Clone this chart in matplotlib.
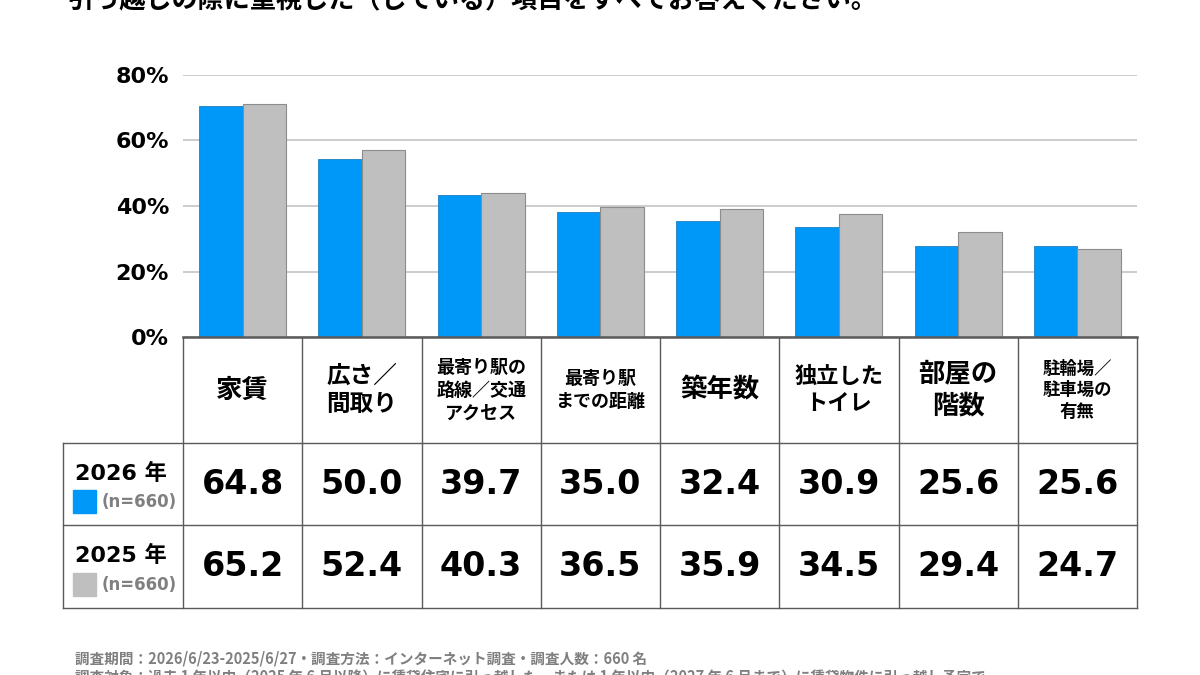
import matplotlib
matplotlib.use("Agg")
from matplotlib import pyplot as plt
import numpy as np

plt.rcParams['font.family'] = ['Noto Sans CJK JP', 'DejaVu Sans']

title = "引っ越しの際に重視した（している）項目をすべてお答えください。"
categories = ["家賃", "広さ／\n間取り", "最寄り駅の\n路線／交通\nアクセス", "最寄り駅\nまでの距離",
              "築年数", "独立した\nトイレ", "部屋の\n階数", "駐輪場／\n駐車場の\n有無"]
cat_sizes = [19, 17, 13, 13, 19, 16, 19, 12.5]

# bar heights as drawn in the picture (%)
bars_2026 = [70.6, 54.4, 43.3, 38.1, 35.4, 33.6, 27.9, 27.8]
bars_2025 = [71.1, 57.1, 43.9, 39.8, 39.0, 37.6, 32.0, 26.8]
# values printed in the table
table_2026 = [64.8, 50.0, 39.7, 35.0, 32.4, 30.9, 25.6, 25.6]
table_2025 = [65.2, 52.4, 40.3, 36.5, 35.9, 34.5, 29.4, 24.7]
series_labels = ["2026 年", "2025 年"]
n_labels = ["(n=660)", "(n=660)"]
yticks = [0, 20, 40, 60, 80]

notes = ["調査期間：2026/6/23-2025/6/27・調査方法：インターネット調査・調査人数：660 名",
         "調査対象：過去 1 年以内（2025 年 6 月以降）に賃貸住宅に引っ越した、または 1 年以内（2027 年 6 月まで）に賃貸物件に引っ越し予定で"]

BLUE = "#0098f8"
GRAY = "#bfbfbf"
LINE = "#5a5a5a"

W, H = 1200, 675
fig = plt.figure(figsize=(12, 6.75), dpi=100)

# page-coordinate axes for table and text
pg = fig.add_axes([0, 0, 1, 1])
pg.set_xlim(0, W)
pg.set_ylim(H, 0)
pg.axis('off')

x0, x1 = 183, 1137
y_axis, y_top = 337, 75
ax = fig.add_axes([x0 / W, 1 - y_axis / H, (x1 - x0) / W, (y_axis - y_top) / H])
n = len(categories)
idx = np.arange(n)
bw = 0.365
ax.bar(idx - bw / 2, bars_2026, bw, color=BLUE, edgecolor="#1f7fc0", linewidth=0.6, zorder=3)
ax.bar(idx + bw / 2, bars_2025, bw, color=GRAY, edgecolor="#8c8c8c", linewidth=0.8, zorder=3)
ax.set_xlim(-0.5, n - 0.5)
ax.set_ylim(0, 80)
ax.set_yticks(yticks)
ax.set_yticklabels([f"{v}%" for v in yticks], fontsize=16, fontweight='bold', family='DejaVu Sans')
ax.tick_params(axis='y', length=0, pad=10)
ax.set_xticks([])
ax.grid(axis='y', color="#c4c4c4", linewidth=1.2, zorder=0)
for s in ['top', 'right', 'left']:
    ax.spines[s].set_visible(False)
ax.spines['bottom'].set_color(LINE)
ax.spines['bottom'].set_linewidth(1.8)
ax.spines['bottom'].set_zorder(4)

# table
col_w = (x1 - x0) / n
lx = 63
rows = [337, 443, 525, 608]
for k in range(n + 1):
    pg.plot([x0 + k * col_w] * 2, [rows[0], rows[-1]], color=LINE, lw=1)
pg.plot([lx, lx], [rows[1], rows[-1]], color=LINE, lw=1)
for r in rows[1:]:
    pg.plot([lx, x1], [r, r], color=LINE, lw=1)

hy = (rows[0] + rows[1]) / 2
for k, (lab, fs) in enumerate(zip(categories, cat_sizes)):
    pg.text(x0 + (k + 0.5) * col_w, hy, lab, ha='center', va='center', fontsize=fs,
            fontweight='bold', linespacing=1.25)

colors = [BLUE, GRAY]
for r, vals in enumerate([table_2026, table_2025]):
    cy = (rows[r + 1] + rows[r + 2]) / 2
    for k, v in enumerate(vals):
        pg.text(x0 + (k + 0.5) * col_w, cy, f"{v:.1f}", ha='center', va='center',
                fontsize=24, fontweight='bold', family=['DejaVu Sans', 'Noto Sans CJK JP'])
    pg.text(121, cy - 11, series_labels[r], ha='center', va='center', fontsize=16,
            fontweight='bold', family=['DejaVu Sans', 'Noto Sans CJK JP'])
    pg.add_patch(plt.Rectangle((73, cy + 6), 23, 23, color=colors[r]))
    pg.text(139, cy + 18, n_labels[r], ha='center', va='center', fontsize=12,
            fontweight='bold', color="#808080", family='DejaVu Sans')

# title (cut at top as in the source)
pg.text(68, 8.5, title, ha='left', va='baseline', fontsize=18.8, fontweight='bold')

pg.text(75, 659, notes[0], ha='left', va='center', fontsize=10.5, fontweight='bold', color="#7f7f7f")
pg.text(75, 677, notes[1], ha='left', va='center', fontsize=10.5, fontweight='bold', color="#7f7f7f")

fig.savefig("out.png", dpi=100)
